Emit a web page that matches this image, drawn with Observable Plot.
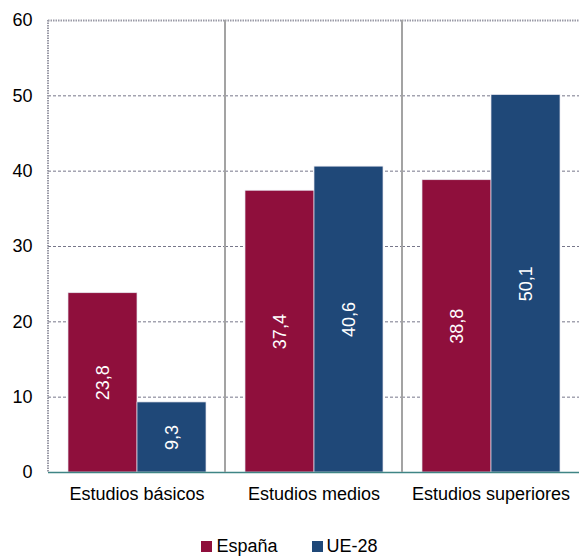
<!DOCTYPE html>
<html><head><meta charset="utf-8">
<script src="https://cdn.jsdelivr.net/npm/d3@7"></script>
<script src="https://cdn.jsdelivr.net/npm/@observablehq/plot@0.6"></script>
<style>
body{margin:0;background:#fff;font-family:"Liberation Sans",Arial,sans-serif;}
#legend{display:flex;justify-content:center;align-items:center;gap:34px;font-size:18px;line-height:21px;margin-top:16px;color:#000;}
#legend .it{display:flex;align-items:center;gap:4px;}
#legend .sw{width:11px;height:11px;display:inline-block;}
</style></head><body><div id="chart"></div><div id="legend"></div>
<script>
const categories = ["Estudios básicos", "Estudios medios", "Estudios superiores"];
const series = ["España", "UE-28"];
const espana = [23.8, 37.4, 38.8];
const ue28 = [9.3, 40.6, 50.1];
const yTicks = [0, 10, 20, 30, 40, 50, 60];
const colors = ["#8f0f3c", "#1f4878"];

const data = categories.flatMap((c, i) => [
  {cat: c, serie: series[0], value: espana[i]},
  {cat: c, serie: series[1], value: ue28[i]}
]);
const fmt = v => d3.format(".1f")(v).replace(".", ",");

const plot = Plot.plot({
  width: 579, height: 520,
  marginTop: 20, marginBottom: 48, marginLeft: 48, marginRight: 0,
  style: {fontFamily: '"Liberation Sans", Arial, sans-serif', fontSize: "18px", color: "#000", background: "#fff"},
  facet: {data, x: "cat"},
  fx: {domain: categories, padding: 0, axis: "bottom", label: null, tickSize: 0, tickPadding: 15},
  x: {domain: series, axis: null, paddingInner: 0, paddingOuter: 0.273},
  y: {domain: [0, 60], ticks: yTicks, tickSize: 0, tickPadding: 16, label: null, tickFormat: d => String(d)},
  color: {domain: series, range: colors},
  marks: [
    Plot.ruleY(yTicks.slice(1, -1), {stroke: "#77778a", strokeDasharray: "3,2", strokeWidth: 1}),
    Plot.ruleY([60], {stroke: "#9a9aa6", strokeDasharray: "1.5,1", strokeWidth: 2}),
    Plot.barY(data, {x: "serie", y: "value", fill: "serie", stroke: "#e6e6ee", strokeWidth: 0.7}),
    Plot.text(data, {x: "serie", y: d => d.value / 2, text: d => fmt(d.value), rotate: -90, fill: "white", fontSize: 18}),
    Plot.ruleY([0], {stroke: "#3f8585", strokeWidth: 1.5})
  ]
});

const fx = plot.scale("fx");
const y = plot.scale("y");
const svg = d3.select(plot);
const y0 = y.apply(0), y1 = y.apply(60);
categories.forEach((c, i) => {
  const xp = fx.apply(c);
  const ln = svg.append("line").attr("x1", xp).attr("x2", xp).attr("y1", y1).attr("y2", y0);
  if (i === 0) ln.attr("stroke", "#9a9aa6").attr("stroke-width", 2).attr("stroke-dasharray", "1.5,1");
  else ln.attr("stroke", "#a3a3a3").attr("stroke-width", 2);
});
document.getElementById("chart").appendChild(plot);

const lg = document.getElementById("legend");
series.forEach((s, i) => {
  const it = document.createElement("span"); it.className = "it";
  const sw = document.createElement("span"); sw.className = "sw"; sw.style.background = colors[i];
  const tx = document.createElement("span"); tx.textContent = s;
  it.appendChild(sw); it.appendChild(tx); lg.appendChild(it);
});
</script></body></html>
